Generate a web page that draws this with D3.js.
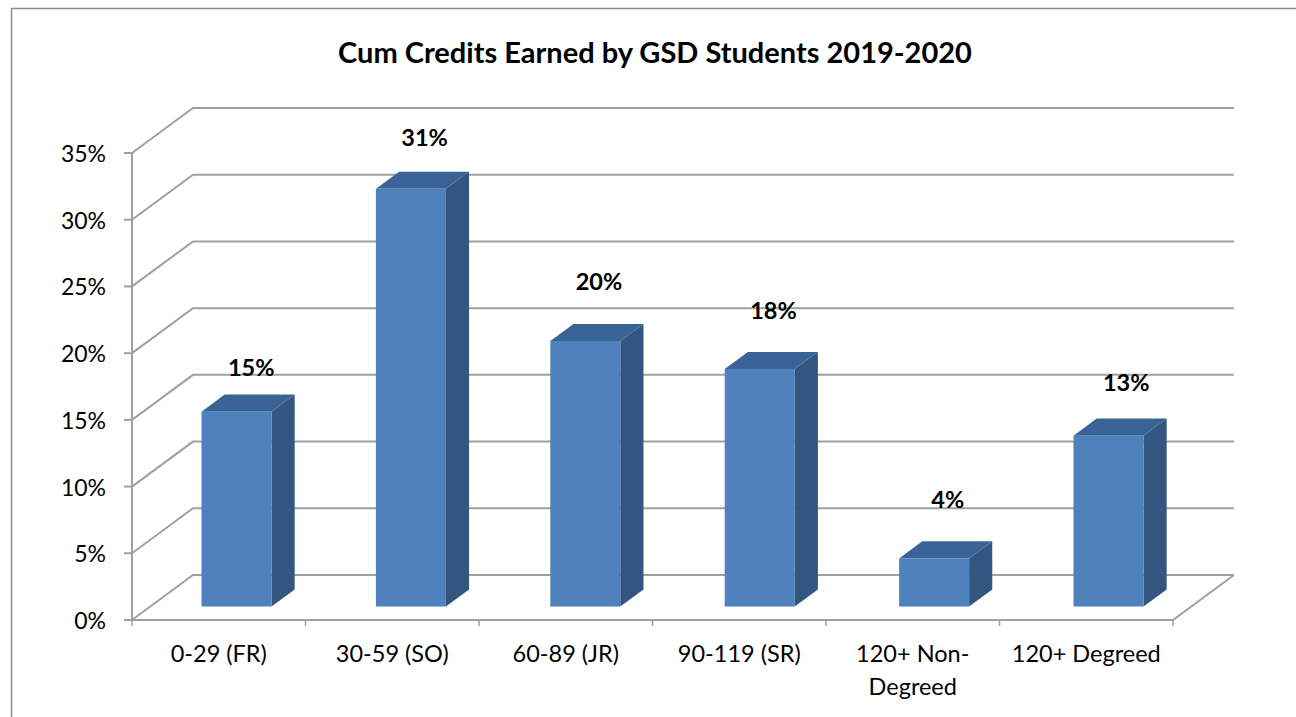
<!DOCTYPE html>
<html><head><meta charset="utf-8">
<script src="https://cdn.jsdelivr.net/npm/d3@7"></script>
<style>html,body{margin:0;padding:0;background:#fff}svg{display:block}text{font-family:Lato,"Open Sans",sans-serif;fill:#000}</style>
</head><body><svg id="c" width="1296" height="717"></svg>
<script>
const categories = [["0-29 (FR)"],["30-59 (SO)"],["60-89 (JR)"],["90-119 (SR)"],["120+ Non-","Degreed"],["120+ Degreed"]];
const values = [14.6,31.3,19.9,17.8,3.6,12.8];
const valueLabels = ["15%","31%","20%","18%","4%","13%"];
const yTicks = [0,5,10,15,20,25,30,35];
const title = "Cum Credits Earned by GSD Students 2019-2020";
// label placement (separate from the data)
const labelGap = [36,43,51,50,50,45];
const labelShift = [33,32,32,32,32,36];

const svg = d3.select("#c");
const grey = "#a0a0a0";
const idx = d3.range(categories.length);
const x = d3.scaleBand().domain(idx).range([132,1173]);
const xBar = d3.scaleBand().domain(idx).range([131,1177.4]);
const y = d3.scaleLinear().domain([0,35]).range([620,153]);
const depth = {dx:61, dy:-45};
const proj = (px,py,t)=>[px+depth.dx*t, py+depth.dy*t];
const barW = 70, tFront = 0.3, tBack = 0.68;
const line = d3.line();

// frame
svg.append("path").attr("d","M11.5,717V8.5H1296").attr("fill","none").attr("stroke","#8c8c8c").attr("stroke-width",1.5);

// walls
const g = svg.append("g").attr("fill","none").attr("stroke",grey).attr("stroke-width",2);
yTicks.forEach(v=>{
  const p0=[x.range()[0],y(v)], p1=proj(p0[0],p0[1],1), p2=proj(x.range()[1],y(v),1);
  g.append("path").attr("d",line([p0,p1,p2]));
  g.append("path").attr("d",line([[p0[0]-8,p0[1]],p0]));
});
g.append("path").attr("d",line([[x.range()[0],y(35)],[x.range()[0],y(0)],[x.range()[1],y(0)],proj(x.range()[1],y(0),1)]));
idx.concat([categories.length]).forEach(i=>{
  const px = i<categories.length? x(i): x.range()[1];
  g.append("path").attr("d",line([[px,y(0)],[px,y(0)+6]])).attr("stroke-width",1.5);
});

// bars
values.forEach((v,i)=>{
  const cx = xBar(i)+xBar.bandwidth()/2;
  const [fx,fb]=proj(cx-barW/2,y(0),tFront);
  const ft = fb-(y(0)-y(v));
  const fr = fx+barW;
  const ddx=depth.dx*(tBack-tFront), ddy=depth.dy*(tBack-tFront);
  const b = svg.append("g");
  b.append("path").attr("d",line([[fr,ft],[fr+ddx,ft+ddy],[fr+ddx,fb+ddy],[fr,fb]])+"Z").attr("fill","#325680");
  b.append("path").attr("d",line([[fx,ft],[fx+ddx,ft+ddy],[fr+ddx,ft+ddy],[fr,ft]])+"Z").attr("fill","#3a6496");
  b.append("rect").attr("x",fx).attr("y",ft).attr("width",barW).attr("height",fb-ft).attr("fill","#4f81bd");
});

// y labels
yTicks.forEach(v=>svg.append("text").attr("x",106).attr("y",y(v)+9).attr("text-anchor","end").attr("font-size",23).text(v+"%"));

// x labels
categories.forEach((c,i)=>{
  const t = svg.append("text").attr("text-anchor","middle").attr("font-size",23.5);
  c.forEach((s,j)=>t.append("tspan").attr("x",x(i)+x.bandwidth()/2).attr("y",662+j*33).text(s));
});

// data labels
values.forEach((v,i)=>{
  const [,fb]=proj(0,y(0),tFront);
  const top = fb-(y(0)-y(v));
  svg.append("text").attr("x",xBar(i)+xBar.bandwidth()/2+labelShift[i]).attr("y",top-labelGap[i])
    .attr("text-anchor","middle").attr("font-size",23.5).attr("font-weight",700).text(valueLabels[i]);
});

svg.append("text").attr("x",655).attr("y",63).attr("text-anchor","middle").attr("font-size",29).attr("font-weight",700).text(title);
</script></body></html>
